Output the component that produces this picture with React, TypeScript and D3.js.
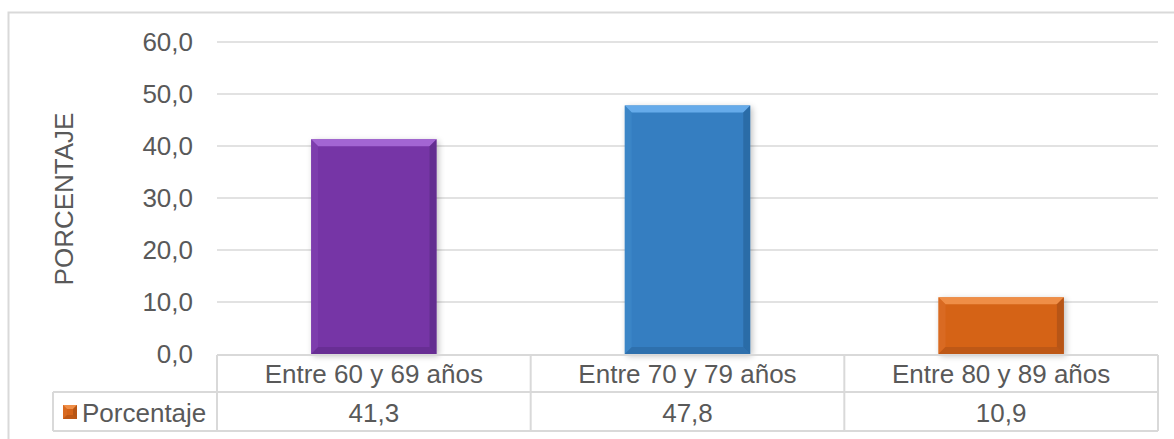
import React from "react";
import * as d3 from "d3";

const categories = ["Entre 60 y 69 años", "Entre 70 y 79 años", "Entre 80 y 89 años"];
const values = [41.3, 47.8, 10.9];
const valueLabels = ["41,3", "47,8", "10,9"];
const yTicks = [0, 10, 20, 30, 40, 50, 60];
const seriesName = "Porcentaje";
const axisTitle = "PORCENTAJE";

const barColors = [
  { main: "#7636a6", light: "#a86ad8", dark: "#52237a", side: "#8444b4" },
  { main: "#357ec1", light: "#6cb0ee", dark: "#235a8e", side: "#428ccc" },
  { main: "#d56419", light: "#f2924c", dark: "#9a4610", side: "#de7028" },
];

const W = 1174;
const H = 439;
const FONT = "'Liberation Sans', Arial, sans-serif";
const TEXT = "#595959";
const GRID = "#d9d9d9";

const plotLeft = 217;
const plotRight = 1158;
const plotTop = 42;
const plotBottom = 354;
const catRowBottom = 392;
const valRowBottom = 431;
const legendLeft = 53;

function BevelRect({ x, y, w, h, c, b }: { x: number; y: number; w: number; h: number; c: any; b: number }) {
  const bb = Math.min(b, h / 2, w / 2);
  const x2 = x + w;
  const y2 = y + h;
  const pts = (arr: number[][]) => arr.map((p) => p.join(",")).join(" ");
  return (
    <g>
      <rect x={x} y={y} width={w} height={h} fill={c.main} />
      <polygon points={pts([[x, y], [x2, y], [x2 - bb, y + bb], [x + bb, y + bb]])} fill={c.light} opacity={0.9} />
      <polygon points={pts([[x, y], [x + bb, y + bb], [x + bb, y2 - bb], [x, y2]])} fill={c.side} opacity={0.5} />
      <polygon points={pts([[x2, y], [x2, y2], [x2 - bb, y2 - bb], [x2 - bb, y + bb]])} fill={c.dark} opacity={0.5} />
      <polygon points={pts([[x, y2], [x + bb, y2 - bb], [x2 - bb, y2 - bb], [x2, y2]])} fill={c.dark} opacity={0.4} />
    </g>
  );
}

export default function App() {
  const x = d3.scaleBand<string>().domain(categories).range([plotLeft, plotRight]).padding(0);
  const y = d3.scaleLinear().domain([0, 60]).range([plotBottom, plotTop]);
  const barW = x.bandwidth() * 0.4;

  return (
    <svg width={W} height={H} style={{ display: "block", position: "absolute", left: 0, top: 0 }} fontFamily={FONT}>
      <defs>
        <filter id="barShadow" x="-20%" y="-20%" width="140%" height="140%">
          <feGaussianBlur in="SourceAlpha" stdDeviation="3" />
          <feOffset dx="2" dy="2" result="blur" />
          <feComponentTransfer>
            <feFuncA type="linear" slope="0.25" />
          </feComponentTransfer>
          <feMerge>
            <feMergeNode />
            <feMergeNode in="SourceGraphic" />
          </feMerge>
        </filter>
      </defs>
      <rect x={0} y={0} width={W} height={H} fill="#ffffff" />
      {/* chart area frame */}
      <rect x={8.5} y={12.5} width={W + 20} height={H + 20} fill="none" stroke={GRID} strokeWidth={2} />

      {/* gridlines and tick labels */}
      {yTicks.map((t) => (
        <g key={t}>
          {t > 0 && (
            <line x1={plotLeft} x2={plotRight} y1={y(t)} y2={y(t)} stroke={GRID} strokeWidth={1.5} />
          )}
          <text x={193} y={y(t) + 9.3} textAnchor="end" fontSize={26} fill={TEXT}>
            {d3.format(".1f")(t).replace(".", ",")}
          </text>
        </g>
      ))}

      {/* axis title */}
      <text
        transform={`translate(73,${(plotTop + plotBottom) / 2 + 1}) rotate(-90)`}
        textAnchor="middle"
        fontSize={26}
        fill={TEXT}
      >
        {axisTitle}
      </text>

      {/* bars */}
      {categories.map((cat, i) => {
        const cx = (x(cat) as number) + x.bandwidth() / 2;
        const top = y(values[i]);
        return (
          <g key={cat} filter="url(#barShadow)">
            <BevelRect x={cx - barW / 2} y={top} w={barW} h={plotBottom - top} c={barColors[i]} b={7} />
          </g>
        );
      })}

      {/* data table */}
      <g stroke={GRID} strokeWidth={2} fill="none">
        <line x1={plotLeft} x2={plotRight} y1={plotBottom + 1} y2={plotBottom + 1} />
        <line x1={legendLeft} x2={plotRight} y1={catRowBottom} y2={catRowBottom} />
        <line x1={legendLeft} x2={plotRight} y1={valRowBottom} y2={valRowBottom} />
        <line x1={legendLeft} x2={legendLeft} y1={catRowBottom} y2={valRowBottom} />
        {categories.map((cat) => (
          <line key={cat} x1={x(cat)} x2={x(cat)} y1={plotBottom + 1} y2={valRowBottom} />
        ))}
        <line x1={plotRight} x2={plotRight} y1={plotBottom + 1} y2={valRowBottom} />
      </g>
      {categories.map((cat, i) => {
        const cx = (x(cat) as number) + x.bandwidth() / 2;
        return (
          <g key={cat}>
            <text x={cx} y={383} textAnchor="middle" fontSize={26} fill={TEXT}>
              {cat}
            </text>
            <text x={cx} y={422} textAnchor="middle" fontSize={26} fill={TEXT}>
              {valueLabels[i]}
            </text>
          </g>
        );
      })}
      {/* legend key */}
      <BevelRect x={63} y={405} w={14} h={14} c={barColors[2]} b={4} />
      <text x={82} y={422} fontSize={26} fill={TEXT}>
        {seriesName}
      </text>
    </svg>
  );
}
